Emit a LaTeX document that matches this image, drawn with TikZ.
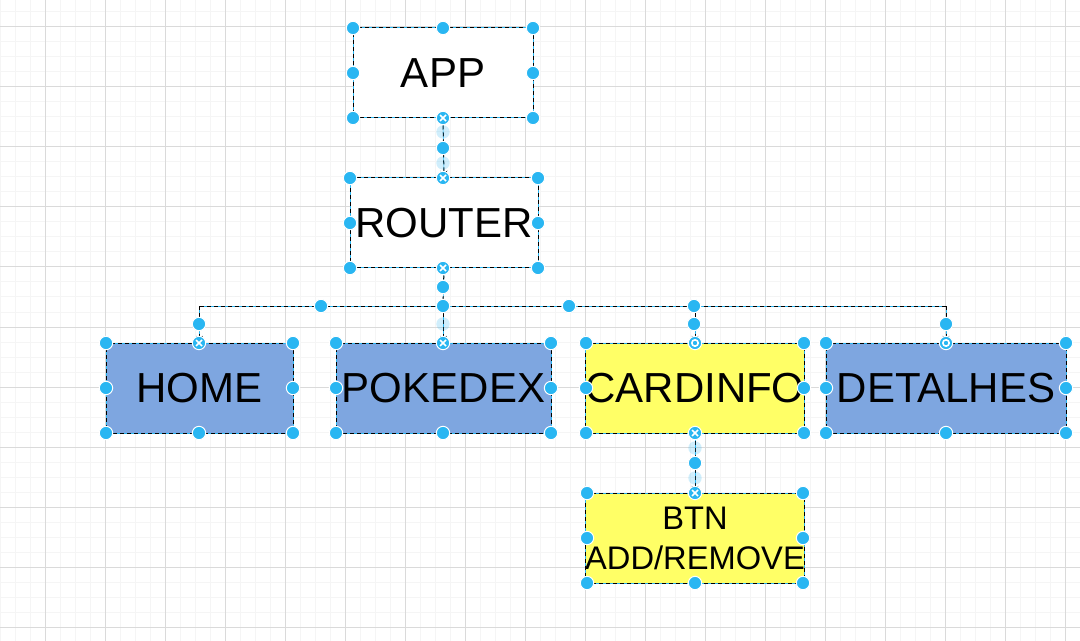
\documentclass[tikz,border=0pt]{standalone}
\usepackage{fontspec}
\setmainfont{Liberation Sans}
\usetikzlibrary{arrows.meta}
\definecolor{selblue}{HTML}{29B6F2}
\definecolor{boxblue}{HTML}{7EA6E0}
\definecolor{boxyellow}{HTML}{FFFF66}
\definecolor{minorg}{HTML}{F5F5F5}
\definecolor{majorg}{HTML}{DADADA}
\tikzset{
  box/.style={rectangle, inner sep=0pt, minimum height=67.5pt, draw=selblue, line width=0.75pt,
    postaction={draw=black, dash pattern=on 3pt off 2.25pt, line width=0.75pt},
    font=\fontsize{31.5}{36}\selectfont, text=black, align=center},
  conn/.style={draw=black, line width=0.75pt, dash pattern=on 3pt off 2.25pt,
    preaction={draw=selblue, solid, -}, -{Stealth[length=5pt,width=5pt]}},
  bus/.style={draw=black, line width=0.75pt, dash pattern=on 3pt off 2.25pt,
    preaction={draw=selblue, solid}},
  handle/.style={fill=selblue, draw=white, line width=0.75pt},
  fhandle/.style={fill=selblue, fill opacity=0.22},
  minorgrid/.style={draw=minorg, line width=0.75pt},
  majorgrid/.style={draw=majorg, line width=0.75pt}
}
\newcommand{\hdl}[1]{\path[handle] #1 circle[radius=5pt];}
\newcommand{\fhdl}[1]{\path[fhandle] #1 circle[radius=5pt];}
\newcommand{\xhdl}[1]{\path[handle] #1 circle[radius=5pt];
  \draw[white, line width=1.3pt] #1 ++(-3,-3) -- ++(6,6) #1 ++(-3,3) -- ++(6,-6);}
\newcommand{\ohdl}[1]{\path[handle] #1 circle[radius=5pt];
  \draw[white, line width=1.2pt] #1 circle[radius=2.4pt];}
\begin{document}
\begin{tikzpicture}[x=0.75pt,y=-0.75pt]
\useasboundingbox (0,0) rectangle (1080,641);
\fill[white] (0,0) rectangle (1080,641);
% grid
\foreach \x in {0,15,...,1080} \draw[minorgrid] (\x,0) -- (\x,641);
\foreach \y in {12,27,...,641} \draw[minorgrid] (0,\y) -- (1080,\y);
\foreach \x in {45,105,...,1080} \draw[majorgrid] (\x,0) -- (\x,641);
\foreach \y in {27,87,...,641} \draw[majorgrid] (0,\y) -- (1080,\y);
% nodes
\node[box, fill=white, minimum width=135pt] (app) at (443,73) {APP};
\node[box, fill=white, minimum width=141pt] (router) at (444,223) {ROUTER};
\node[box, fill=boxblue, minimum width=140.25pt] (home) at (199.5,388) {HOME};
\node[box, fill=boxblue, minimum width=161.25pt] (pokedex) at (443.5,388) {POKEDEX};
\node[box, fill=boxyellow, minimum width=163.5pt] (cardinfo) at (695,388) {CARDINFO};
\node[box, fill=boxblue, minimum width=180pt] (detalhes) at (946,388) {DETALHES};
\node[box, fill=boxyellow, minimum width=162pt, font=\fontsize{24.5}{30}\selectfont] (btn) at (695,538) {BTN\\ADD/REMOVE};
% connectors
\coordinate (j) at (443,306);
\draw[conn] (app.south) -- (router.north);
\draw[bus] (router.south) -- (j);
\draw[bus] (199.5,306) -- (946,306);
\draw[conn] (j -| home.north) -- (home.north);
\draw[conn] (j -| pokedex.north) -- (pokedex.north);
\draw[conn] (j -| cardinfo.north) -- (cardinfo.north);
\draw[conn] (j -| detalhes.north) -- (detalhes.north);
\draw[conn] (cardinfo.south) -- (btn.north);
% selection handles: boxes
\foreach \p in {(353,28),(443,28),(533,28),(353,73),(533,73),(353,118),(533,118),
  (350,178),(538,178),(350,223),(538,223),(350,268),(538,268),
  (106,343),(293,343),(106,388),(293,388),(106,433),(199,433),(293,433),
  (336,343),(551,343),(336,388),(551,388),(336,433),(443,433),(551,433),
  (586,343),(804,343),(586,388),(804,388),(586,433),(804,433),
  (826,343),(1066,343),(826,388),(1066,388),(826,433),(946,433),(1066,433),
  (587,493),(803,493),(587,538),(803,538),(587,583),(695,583),(803,583)} {\hdl{\p}}
% selection handles: edges
\foreach \p in {(443,132),(443,163),(443,324),(695,448),(695,478)} {\fhdl{\p}}
\foreach \p in {(443,148),(443,287),(443,306),(321,306),(569,306),(694,306),
  (199,324),(694,324),(946,324),(695,463)} {\hdl{\p}}
\foreach \p in {(443,118),(443,178),(443,268),(199,343),(443,343),(695,433),(695,493)} {\xhdl{\p}}
\foreach \p in {(695,343),(946,343)} {\ohdl{\p}}
\end{tikzpicture}
\end{document}
